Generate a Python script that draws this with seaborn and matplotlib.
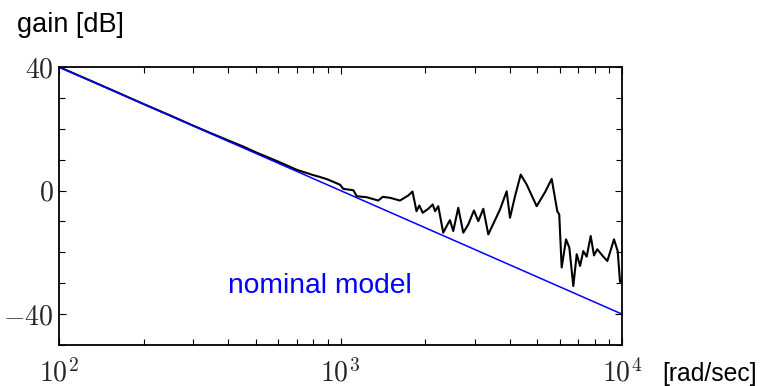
import numpy as np
import pandas as pd
import matplotlib
matplotlib.use("Agg")
import matplotlib.pyplot as plt
import matplotlib.ticker as mticker
import seaborn as sns

# measured gain (frequency in rad/sec, gain in dB)
meas_freq = [100, 130, 160, 200, 250, 300, 350, 400, 450, 500, 600, 700, 800,
             845, 900, 996, 1023, 1111, 1142, 1239, 1362, 1413, 1500, 1626,
             1741, 1802, 1862, 1905, 1959, 2051, 2126, 2168, 2225, 2317, 2383,
             2448, 2515, 2620, 2730, 2844, 2979, 3087, 3216, 3350, 3687, 3893,
             4000, 4168, 4367, 4586, 4975, 5327, 5626, 5890, 5985, 6105, 6327,
             6500, 6714, 6905, 7096, 7286, 7491, 7740, 7953, 8166, 8583, 8871,
             9367, 9654, 9841, 10000]
meas_gain = [40.0, 35.5, 31.9, 28.0, 24.2, 21.0, 18.4, 16.2, 14.3, 12.4, 9.4,
             6.7, 5.0, 4.4, 3.6, 1.9, 0.55, 0.1, -1.84, -2.16, -3.23, -2.03,
             -2.35, -3.23, -1.6, -0.32, -6.68, -4.84, -7.19, -5.9, -4.5, -6.68,
             -5.06, -13.65, -11.5, -9.58, -13.1, -5.58, -13.65, -10.97, -6.45,
             -9.9, -5.9, -14.2, -6.13, -0.23, -8.8, -1.84, 5.16, 1.94, -5.06,
             -0.55, 3.77, -6.68, -7.74, -24.9, -15.8, -18.5, -30.9, -20.6,
             -24.4, -19.6, -21.4, -14.7, -21.0, -19.0, -21.4, -22.8, -15.8,
             -19.6, -29.6, -29.0]

# nominal model
nom_freq = [100, 10000]
nom_gain = [40, -40]

x_ticks = [1e2, 1e3, 1e4]
x_labels = [r"$10^{2}$", r"$10^{3}$", r"$10^{4}$"]
y_ticks = [40, 0, -40]
y_labels = [r"$40$", r"$0$", r"$-40$"]

sns.set_theme(style="white")
plt.rcParams["font.family"] = ["Liberation Sans", "DejaVu Sans"]
plt.rcParams["mathtext.fontset"] = "cm"

fig = plt.figure(figsize=(7.6, 3.86), dpi=100)
ax = fig.add_axes([59 / 760, 1 - 345 / 386, (622 - 59) / 760, (345 - 67) / 386])

df_meas = pd.DataFrame({"freq": meas_freq, "gain": meas_gain})
df_nom = pd.DataFrame({"freq": nom_freq, "gain": nom_gain})

sns.lineplot(data=df_meas, x="freq", y="gain", ax=ax, color="black",
             linewidth=1.5, estimator=None, sort=False)
sns.lineplot(data=df_nom, x="freq", y="gain", ax=ax, color="#0000ff",
             linewidth=1.1, estimator=None, sort=False)

ax.set_xscale("log")
ax.set_xlim(100, 10000)
ax.set_ylim(-50, 40)

ax.xaxis.set_major_locator(mticker.FixedLocator(x_ticks))
ax.xaxis.set_major_formatter(mticker.FixedFormatter(x_labels))
ax.xaxis.set_minor_locator(mticker.LogLocator(base=10, subs=np.arange(2, 10)))
ax.xaxis.set_minor_formatter(mticker.NullFormatter())
ax.yaxis.set_major_locator(mticker.FixedLocator(y_ticks))
ax.yaxis.set_major_formatter(mticker.FixedFormatter(y_labels))
ax.yaxis.set_minor_locator(mticker.MultipleLocator(10))

ax.tick_params(axis="both", which="both", direction="in", top=True,
               right=True, bottom=True, left=True, color="black", width=0.8)
ax.tick_params(axis="both", which="major", length=5)
ax.tick_params(axis="both", which="minor", length=4)
ax.tick_params(axis="x", which="major", labelsize=20, pad=10)
ax.tick_params(axis="y", which="major", labelsize=20, pad=4)

for s in ax.spines.values():
    s.set_color("black")
    s.set_linewidth(1.3)
    s.set_visible(True)

ax.set_xlabel("")
ax.set_ylabel("")
ax.grid(False)

ax.text(845, -31, "nominal model", color="#0000ff", fontsize=20.3,
        ha="center", va="center")

fig.text(17 / 760, 1 - 12 / 386, "gain [dB]", fontsize=19.5, ha="left",
         va="top", color="black")
fig.text(662 / 760, 1 - 381 / 386, "[rad/sec]", fontsize=17.8, ha="left",
         va="baseline", color="black")

fig.savefig("out.png", dpi=100)
